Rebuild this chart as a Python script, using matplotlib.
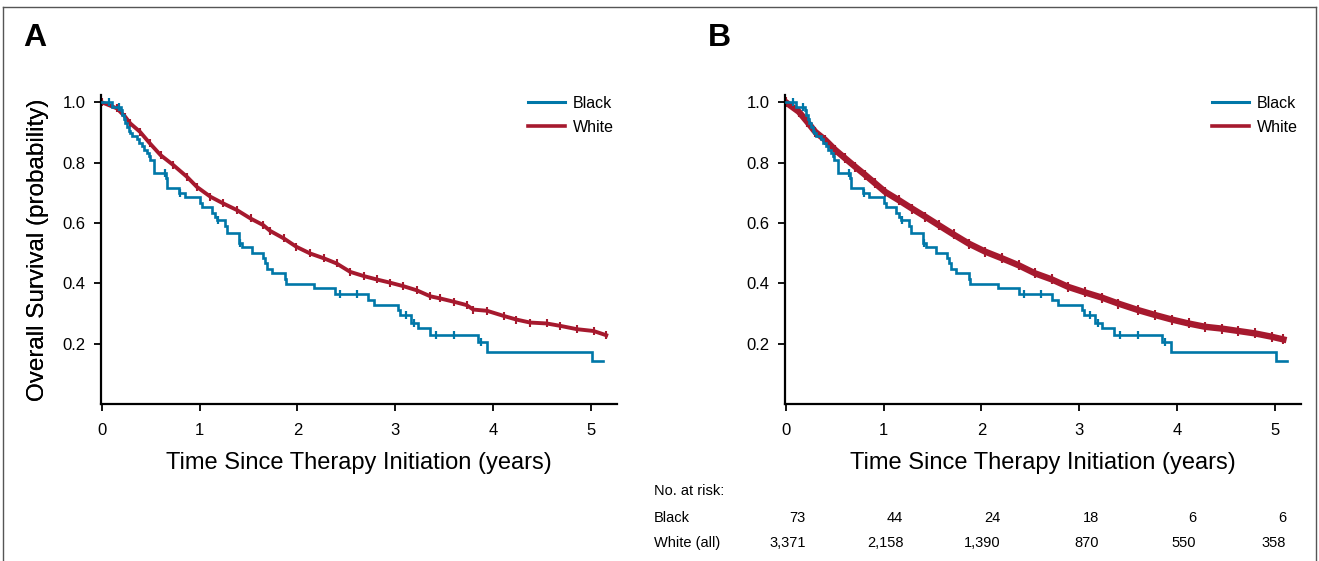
import numpy as np
import matplotlib
matplotlib.use("Agg")
import matplotlib.pyplot as plt
from matplotlib import font_manager
from matplotlib.lines import Line2D
from matplotlib.transforms import blended_transform_factory

# ---------------- data ----------------
black_times = [0, 0.10, 0.194, 0.204, 0.221, 0.238, 0.256, 0.273, 0.29, 0.307,
               0.358, 0.375, 0.409, 0.426, 0.46, 0.477, 0.494, 0.528, 0.535, 0.655,
               0.665, 0.784, 0.845, 1.0, 1.02, 1.125, 1.16, 1.176, 1.26, 1.278,
               1.40, 1.43, 1.54, 1.646, 1.67, 1.69, 1.74, 1.874, 1.885, 2.171,
               2.386, 2.727, 2.785, 3.033, 3.05, 3.16, 3.238, 3.36, 3.85, 3.94,
               5.017]
black_surv = [1.0, 0.986, 0.973, 0.959, 0.945, 0.932, 0.918, 0.905, 0.898, 0.89,
              0.877, 0.865, 0.854, 0.843, 0.832, 0.821, 0.81, 0.788, 0.766, 0.75,
              0.716, 0.70, 0.687, 0.667, 0.654, 0.634, 0.621, 0.61, 0.59, 0.566,
              0.535, 0.521, 0.502, 0.483, 0.466, 0.449, 0.433, 0.416, 0.397, 0.383,
              0.363, 0.344, 0.328, 0.311, 0.295, 0.269, 0.252, 0.228, 0.206, 0.173,
              0.143]
black_end = 5.13
black_censor = [0.07, 0.17, 0.64, 0.80, 1.19, 1.41, 2.437, 2.607, 3.108, 3.19,
                3.418, 3.60, 3.88]

white_a_times = [0, 0.153, 0.238, 0.29, 0.39, 0.49, 0.60, 0.73, 0.87, 0.97,
                 1.11, 1.24, 1.38, 1.52, 1.65, 1.72, 1.86, 1.99, 2.13, 2.27,
                 2.40, 2.54, 2.68, 2.81, 2.95, 3.08, 3.22, 3.36, 3.46, 3.60,
                 3.73, 3.80, 3.94, 4.11, 4.24, 4.38, 4.55, 4.69, 4.86, 5.03, 5.16]
white_a_surv = [1.0, 0.980, 0.952, 0.930, 0.902, 0.864, 0.825, 0.792, 0.753, 0.720,
                0.687, 0.665, 0.643, 0.615, 0.593, 0.574, 0.549, 0.521, 0.499, 0.483,
                0.466, 0.438, 0.424, 0.413, 0.402, 0.391, 0.377, 0.357, 0.350, 0.339,
                0.328, 0.313, 0.309, 0.292, 0.280, 0.270, 0.267, 0.259, 0.248, 0.242, 0.228]

white_b_times = [0, 0.131, 0.216, 0.30, 0.403, 0.505, 0.607, 0.71, 0.812, 0.914,
                 1.016, 1.153, 1.289, 1.425, 1.562, 1.715, 1.869, 2.039, 2.21, 2.38,
                 2.55, 2.72, 2.89, 3.06, 3.23, 3.40, 3.607, 3.777, 3.948, 4.119,
                 4.288, 4.459, 4.63, 4.80, 4.97, 5.09]
white_b_surv = [1.0, 0.969, 0.936, 0.902, 0.875, 0.842, 0.814, 0.786, 0.759, 0.731,
                0.703, 0.676, 0.648, 0.621, 0.593, 0.562, 0.532, 0.505, 0.483, 0.460,
                0.433, 0.413, 0.388, 0.370, 0.353, 0.333, 0.311, 0.295, 0.280, 0.267,
                0.256, 0.250, 0.242, 0.234, 0.223, 0.214]

x_ticks = [0, 1, 2, 3, 4, 5]
y_ticks = [0.2, 0.4, 0.6, 0.8, 1.0]
y_tick_labels = ["0.2", "0.4", "0.6", "0.8", "1.0"]
group_labels = ["Black", "White"]
risk_row_labels = ["Black", "White (all)"]
risk_black = ["73", "44", "24", "18", "6", "6"]
risk_white = ["3,371", "2,158", "1,390", "870", "550", "358"]
risk_x = [0.2, 1.2, 2.2, 3.2, 4.2, 5.12]

# ---------------- style ----------------
BLUE = "#0077A8"
RED = "#A6192E"
W, H = 1319, 561

names = {f.name for f in font_manager.fontManager.ttflist}
REG = "Liberation Sans"
NARROW = "Liberation Sans Narrow" if "Liberation Sans Narrow" in names else "Liberation Sans"
narrow_ok = NARROW != REG
plt.rcParams["font.family"] = [REG, "DejaVu Sans"]

fig = plt.figure(figsize=(W / 100, H / 100), dpi=100)

ax_top, ax_bot = 94.8, 404
axes_px = [(101, 617), (785, 1301)]
axes = []
for (l, r) in axes_px:
    ax = fig.add_axes([l / W, 1 - ax_bot / H, (r - l) / W, (ax_bot - ax_top) / H])
    axes.append(ax)


def step_value(t):
    idx = np.searchsorted(black_times, t, side="right") - 1
    return black_surv[idx]


for i, ax in enumerate(axes):
    bt = list(black_times) + [black_end]
    bs = list(black_surv) + [black_surv[-1]]
    ax.step(bt, bs, where="post", color=BLUE, lw=1.9, zorder=3,
            solid_joinstyle="miter", label=group_labels[0])
    ax.plot(black_censor, [step_value(t) for t in black_censor], ls="none",
            marker="|", ms=6, mew=1.6, color=BLUE, zorder=3)
    if i == 0:
        wt, ws, lw, ms = white_a_times, white_a_surv, 2.8, 6
    else:
        wt, ws, lw, ms = white_b_times, white_b_surv, 4.6, 7
    ax.plot(wt, ws, color=RED, lw=lw, marker="|", ms=ms, mew=1.5, zorder=2,
            label=group_labels[1])

    ax.set_xlim(-0.01, 5.27)
    ax.set_ylim(0, 1.025)
    ax.set_xticks(x_ticks)
    ax.set_yticks(y_ticks)
    ax.set_yticklabels(y_tick_labels)
    for s in ["top", "right"]:
        ax.spines[s].set_visible(False)
    for s in ["left", "bottom"]:
        ax.spines[s].set_linewidth(1.6)
    ax.tick_params(axis="both", direction="out", length=5, width=1.3, labelsize=12)
    ax.tick_params(axis="x", pad=9)
    ax.tick_params(axis="y", pad=6)

    ax.set_xlabel("Time Since Therapy Initiation (years)", fontsize=17)
    ax.xaxis.set_label_coords(0.5, -(463 - ax_bot) / (ax_bot - ax_top))
    ax.xaxis.label.set_verticalalignment("center")
    ax.set_ylabel("Overall Survival (probability)", fontsize=17.5)
    ax.yaxis.set_label_coords(-(axes_px[i][0] - 38) / (axes_px[i][1] - axes_px[i][0]), 0.5)
    ax.yaxis.label.set_verticalalignment("center")

    handles = [Line2D([], [], color=BLUE, lw=2.2), Line2D([], [], color=RED, lw=2.6)]
    ax.legend(handles, group_labels, loc="upper right", frameon=False, fontsize=11.5,
              handlelength=2.3, handletextpad=0.5, labelspacing=0.55,
              borderaxespad=0, bbox_to_anchor=(1.006, 1.017))

# panel letters
letter_kw = dict(fontsize=23, fontweight="bold", va="center", ha="center",
                 family=[NARROW, "DejaVu Sans"])
fig.text(35 / W, 1 - 38 / H, "A", **letter_kw)
fig.text(719 / W, 1 - 38 / H, "B", **letter_kw)

# risk table
tsize = 12 if narrow_ok else 10.5
tfam = [NARROW, "DejaVu Sans"]
fig.text(654 / W, 1 - 491 / H, "No. at risk:", fontsize=tsize, family=tfam, va="center", ha="left")
fig.text(654 / W, 1 - 518 / H, risk_row_labels[0], fontsize=tsize, family=tfam, va="center", ha="left")
fig.text(654 / W, 1 - 543 / H, risk_row_labels[1], fontsize=tsize, family=tfam, va="center", ha="left")
trans = blended_transform_factory(axes[1].transData, fig.transFigure)
for xv, b, w in zip(risk_x, risk_black, risk_white):
    axes[1].text(xv, 1 - 518 / H, b, transform=trans, ha="right", va="center",
                 fontsize=tsize, family=tfam, clip_on=False)
    axes[1].text(xv, 1 - 543 / H, w, transform=trans, ha="right", va="center",
                 fontsize=tsize, family=tfam, clip_on=False)

# figure border (open at bottom)
bc = "#555555"
fig.add_artist(Line2D([3 / W, 1316 / W], [1 - 7 / H, 1 - 7 / H], color=bc, lw=1.0))
fig.add_artist(Line2D([3 / W, 3 / W], [1 - 7 / H, 0], color=bc, lw=1.0))
fig.add_artist(Line2D([1316 / W, 1316 / W], [1 - 7 / H, 0], color=bc, lw=1.0))

fig.savefig("out.png", dpi=100)
